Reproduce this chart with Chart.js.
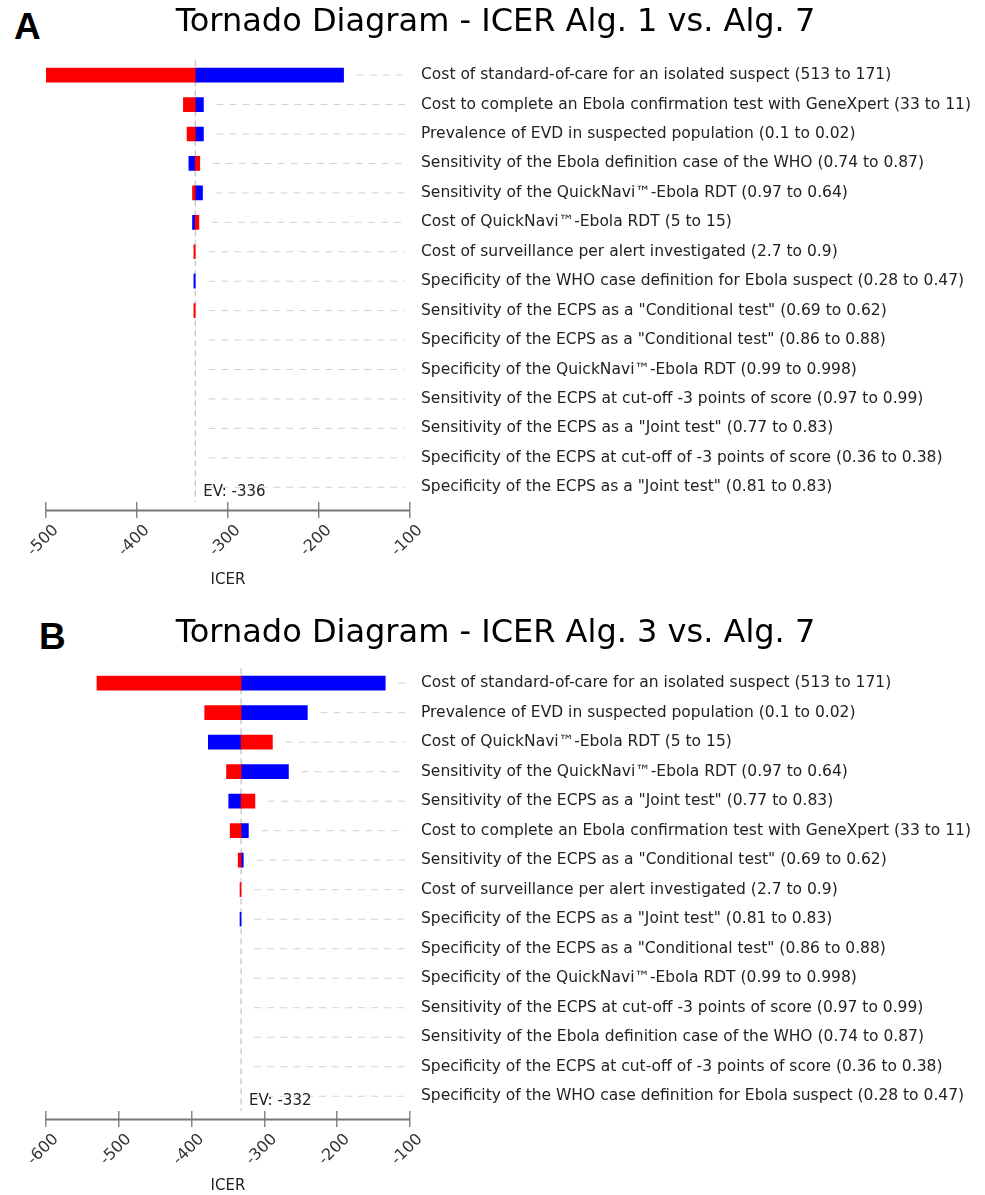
<html>
<head>
<script src="https://cdn.jsdelivr.net/npm/chart.js"></script>
<style>
body { margin:0; background:#fff; width:985px; height:1195px; position:relative; overflow:hidden }
.panel { position:absolute; left:0; width:985px }
.tag { position:absolute; font:bold 37px/37px "Liberation Sans", Arial, sans-serif; color:#000 }
</style>
</head>
<body>
<div class="tag" style="left:14px;top:8px">A</div>
<div class="panel" style="top:0;height:600px"><canvas id="chartA" width="985" height="600"></canvas></div>
<div class="tag" style="left:39px;top:618px">B</div>
<div class="panel" style="top:600px;height:595px"><canvas id="chartB" width="985" height="595"></canvas></div>

<script>
// panel A : ICER Alg. 1 vs Alg. 7
titleA = 'Tornado Diagram - ICER Alg. 1 vs. Alg. 7'
evA = -336
ticksA = [-500, -100]
labelsA = [
  'Cost of standard-of-care for an isolated suspect (513 to 171)',
  'Cost to complete an Ebola confirmation test with GeneXpert (33 to 11)',
  'Prevalence of EVD in suspected population (0.1 to 0.02)',
  'Sensitivity of the Ebola definition case of the WHO (0.74 to 0.87)',
  'Sensitivity of the QuickNavi™-Ebola RDT (0.97 to 0.64)',
  'Cost of QuickNavi™-Ebola RDT (5 to 15)',
  'Cost of surveillance per alert investigated (2.7 to 0.9)',
  'Specificity of the WHO case definition for Ebola suspect (0.28 to 0.47)',
  'Sensitivity of the ECPS as a "Conditional test" (0.69 to 0.62)',
  'Specificity of the ECPS as a "Conditional test" (0.86 to 0.88)',
  'Specificity of the QuickNavi™-Ebola RDT (0.99 to 0.998)',
  'Sensitivity of the ECPS at cut-off -3 points of score (0.97 to 0.99)',
  'Sensitivity of the ECPS as a "Joint test" (0.77 to 0.83)',
  'Specificity of the ECPS at cut-off of -3 points of score (0.36 to 0.38)',
  'Specificity of the ECPS as a "Joint test" (0.81 to 0.83)'
]
// bar ends (ICER) for the red and the blue side, null = no bar
redA  = [-500, -349, -345, -331, -339, -332, -337.5, null, -337.5, null, null, null, null, null, null]
blueA = [-173, -327, -327, -343, -328, -339, null, -337.5, null, null, null, null, null, null, null]

// panel B : ICER Alg. 3 vs Alg. 7
titleB = 'Tornado Diagram - ICER Alg. 3 vs. Alg. 7'
evB = -332
ticksB = [-600, -100]
labelsB = [
  'Cost of standard-of-care for an isolated suspect (513 to 171)',
  'Prevalence of EVD in suspected population (0.1 to 0.02)',
  'Cost of QuickNavi™-Ebola RDT (5 to 15)',
  'Sensitivity of the QuickNavi™-Ebola RDT (0.97 to 0.64)',
  'Sensitivity of the ECPS as a "Joint test" (0.77 to 0.83)',
  'Cost to complete an Ebola confirmation test with GeneXpert (33 to 11)',
  'Sensitivity of the ECPS as a "Conditional test" (0.69 to 0.62)',
  'Cost of surveillance per alert investigated (2.7 to 0.9)',
  'Specificity of the ECPS as a "Joint test" (0.81 to 0.83)',
  'Specificity of the ECPS as a "Conditional test" (0.86 to 0.88)',
  'Specificity of the QuickNavi™-Ebola RDT (0.99 to 0.998)',
  'Sensitivity of the ECPS at cut-off -3 points of score (0.97 to 0.99)',
  'Sensitivity of the Ebola definition case of the WHO (0.74 to 0.87)',
  'Specificity of the ECPS at cut-off of -3 points of score (0.36 to 0.38)',
  'Specificity of the WHO case definition for Ebola suspect (0.28 to 0.47)'
]
redB  = [-530, -382, -289, -352, -313, -347, -336, -333.5, null, null, null, null, null, null, null]
blueB = [-134, -241, -377, -267, -349, -322, -329, null, -333.5, null, null, null, null, null, null]

Chart.defaults.font.family = '"DejaVu Sans", Verdana, sans-serif'
Chart.defaults.color = '#222'

// dashed leader lines, EV line, axis line and EV label
const tornadoDeco = {
  id: 'tornadoDeco',
  beforeDatasetsDraw(chart, args, opts) {
    const ctx = chart.ctx, a = chart.chartArea, x = chart.scales.x, y = chart.scales.y
    ctx.save()
    ctx.strokeStyle = '#d2d2d2'
    ctx.lineWidth = 1
    ctx.setLineDash([7, 6])
    chart.data.labels.forEach((lab, i) => {
      let ends = [opts.ev]
      chart.data.datasets.forEach(ds => { if (ds.data[i]) ends.push(ds.data[i][0], ds.data[i][1]) })
      const from = x.getPixelForValue(Math.max(...ends)) + 13
      const yy = y.getPixelForValue(i)
      if (from < a.right - 5) {
        ctx.beginPath(); ctx.moveTo(from, yy); ctx.lineTo(a.right - 5, yy); ctx.stroke()
      }
    })
    const evPx = x.getPixelForValue(opts.ev)
    ctx.strokeStyle = '#b4b4b4'
    ctx.setLineDash([6, 4])
    ctx.beginPath(); ctx.moveTo(evPx, a.top); ctx.lineTo(evPx, a.bottom); ctx.stroke()
    ctx.restore()
  },
  afterDraw(chart, args, opts) {
    const ctx = chart.ctx, a = chart.chartArea, x = chart.scales.x
    ctx.save()
    ctx.strokeStyle = '#777'
    ctx.lineWidth = 2
    ctx.beginPath(); ctx.moveTo(a.left, a.bottom + 8.5); ctx.lineTo(a.right, a.bottom + 8.5); ctx.stroke()
    ctx.fillStyle = '#222'
    ctx.font = '15px "DejaVu Sans"'
    ctx.textBaseline = 'middle'
    ctx.fillText('EV: ' + opts.ev, x.getPixelForValue(opts.ev) + 8, a.bottom - 10)
    ctx.restore()
  }
}

function tornado(id, title, labels, ev, red, blue, range, pad) {
  const toBar = v => v == null ? null : [ev, v]
  new Chart(document.getElementById(id), {
    type: 'bar',
    data: {
      labels: labels,
      datasets: [
        { data: red.map(toBar), backgroundColor: '#ff0000' },
        { data: blue.map(toBar), backgroundColor: '#0000ff' }
      ]
    },
    options: {
      indexAxis: 'y',
      responsive: false,
      animation: false,
      grouped: false,
      barThickness: 14,
      borderWidth: 0,
      layout: { padding: { left: 6, right: 0, top: 0, bottom: 0 } },
      plugins: {
        legend: { display: false },
        tooltip: { enabled: false },
        title: { display: true, text: title, color: '#000',
                 font: { size: 32, weight: 'normal' }, padding: { top: pad.top, bottom: pad.gap } },
        tornadoDeco: { ev: ev }
      },
      scales: {
        x: {
          min: range[0], max: range[1],
          ticks: { stepSize: 100, maxRotation: 45, minRotation: 45, padding: 3, labelOffset: 10,
                   color: '#333', font: { size: 16 } },
          grid: { drawOnChartArea: false, drawTicks: true, tickLength: 16, color: '#888', lineWidth: 1.5 },
          border: { display: false },
          title: { display: true, text: 'ICER', color: '#222', font: { size: 15 }, padding: { top: 0, bottom: pad.icer } },
          afterFit: s => { s.height = pad.xh; s.paddingLeft = 46 }
        },
        y: {
          position: 'right',
          grid: { display: false, drawTicks: false },
          border: { display: false },
          ticks: { padding: 11, color: '#222', font: { size: 15.5 } },
          afterFit: s => { s.width = 575 }
        }
      }
    },
    plugins: [tornadoDeco]
  })
}

tornado('chartA', titleA, labelsA, evA, redA, blueA, ticksA, { top: 3, gap: 19, xh: 98, icer: 11 })
tornado('chartB', titleB, labelsB, evB, redB, blueB, ticksB, { top: 14, gap: 16, xh: 84, icer: 0 })
</script>
</body>
</html>
